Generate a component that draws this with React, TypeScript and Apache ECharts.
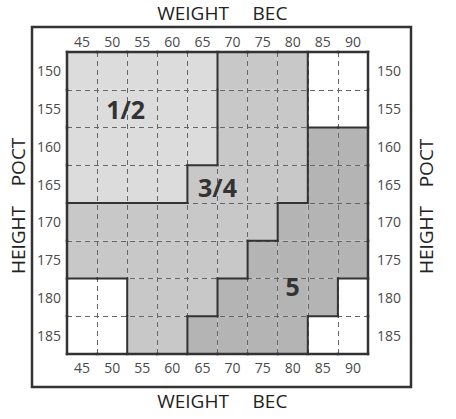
import React, { useEffect, useRef } from "react";
import * as echarts from "echarts";

const weights = ["45", "50", "55", "60", "65", "70", "75", "80", "85", "90"];
const heights = ["150", "155", "160", "165", "170", "175", "180", "185"];

// size code per cell: rows = heights, columns = weights ("" = no size)
const sizeGrid: string[][] = [
  ["1/2", "1/2", "1/2", "1/2", "1/2", "3/4", "3/4", "3/4", "", ""],
  ["1/2", "1/2", "1/2", "1/2", "1/2", "3/4", "3/4", "3/4", "", ""],
  ["1/2", "1/2", "1/2", "1/2", "1/2", "3/4", "3/4", "3/4", "5", "5"],
  ["1/2", "1/2", "1/2", "1/2", "3/4", "3/4", "3/4", "3/4", "5", "5"],
  ["3/4", "3/4", "3/4", "3/4", "3/4", "3/4", "3/4", "5", "5", "5"],
  ["3/4", "3/4", "3/4", "3/4", "3/4", "3/4", "5", "5", "5", "5"],
  ["", "", "3/4", "3/4", "3/4", "5", "5", "5", "5", ""],
  ["", "", "3/4", "3/4", "5", "5", "5", "5", "", ""],
];

const sizeColors: Record<string, string> = {
  "1/2": "#dcdcdc",
  "3/4": "#c8c8c8",
  "5": "#b4b4b4",
  "": "#ffffff",
};

const regionLabels = ["1/2", "3/4", "5"];
const labelWeightPos = [1.45, 4.5, 7];
const labelHeightPos = [1.0, 3.07, 5.7];

const FONT = '"Open Sans", "DejaVu Sans", sans-serif';

export default function App() {
  const ref = useRef<HTMLDivElement>(null);

  useEffect(() => {
    if (!ref.current) return;
    const chart = echarts.init(ref.current, null, { renderer: "svg" });

    const cells: number[][] = [];
    sizeGrid.forEach((row, r) => row.forEach((_, c) => cells.push([c, r])));

    const nC = weights.length;
    const nR = heights.length;

    const axisLabel = { color: "#4a4a4a", fontSize: 14, fontFamily: FONT, interval: 0 };
    const dashed = {
      show: true,
      interval: 0,
      lineStyle: { type: [5, 4] as any, color: "#666", width: 1 },
    };

    const option: any = {
      animation: false,
      backgroundColor: "#ffffff",
      grid: { left: 67, top: 52, width: 301, height: 302, containLabel: false },
      xAxis: [
        {
          type: "category",
          data: weights,
          position: "top",
          z: 3,
          axisLine: { show: false },
          axisTick: { show: false },
          axisLabel: { ...axisLabel, margin: 4 },
          splitLine: dashed,
        },
        {
          type: "category",
          data: weights,
          position: "bottom",
          z: 3,
          axisLine: { show: false },
          axisTick: { show: false },
          axisLabel: { ...axisLabel, margin: 6 },
          splitLine: { show: false },
        },
      ],
      yAxis: [
        {
          type: "category",
          data: heights,
          position: "left",
          inverse: true,
          z: 3,
          axisLine: { show: false },
          axisTick: { show: false },
          axisLabel: { ...axisLabel, margin: 6, padding: [5, 0, 0, 0] },
          splitLine: dashed,
        },
        {
          type: "category",
          data: heights,
          position: "right",
          inverse: true,
          z: 3,
          axisLine: { show: false },
          axisTick: { show: false },
          axisLabel: { ...axisLabel, margin: 9, padding: [5, 0, 0, 0] },
          splitLine: { show: false },
        },
      ],
      series: [
        {
          type: "custom",
          z: 1,
          silent: true,
          xAxisIndex: 0,
          yAxisIndex: 0,
          data: cells,
          renderItem: (params: any, api: any) => {
            const c = api.value(0);
            const r = api.value(1);
            const p = api.coord([c, r]);
            const s = api.size([1, 1]);
            return {
              type: "rect",
              shape: { x: p[0] - s[0] / 2, y: p[1] - s[1] / 2, width: s[0], height: s[1] },
              style: { fill: sizeColors[sizeGrid[r][c]], stroke: null },
            };
          },
        },
        {
          type: "custom",
          z: 5,
          silent: true,
          xAxisIndex: 0,
          yAxisIndex: 0,
          data: cells,
          renderItem: (params: any, api: any) => {
            const c = api.value(0);
            const r = api.value(1);
            const p = api.coord([c, r]);
            const s = api.size([1, 1]);
            const x0 = p[0] - s[0] / 2;
            const x1 = p[0] + s[0] / 2;
            const y0 = p[1] - s[1] / 2;
            const y1 = p[1] + s[1] / 2;
            const code = sizeGrid[r][c];
            const children: any[] = [];
            const seg = (a: number, b: number, cc: number, d: number, w: number) =>
              children.push({
                type: "line",
                shape: { x1: a, y1: b, x2: cc, y2: d },
                style: { stroke: "#333", lineWidth: w, lineCap: "square" },
              });
            if (c === nC - 1) seg(x1, y0, x1, y1, 2.5);
            else if (sizeGrid[r][c + 1] !== code) seg(x1, y0, x1, y1, 2);
            if (r === nR - 1) seg(x0, y1, x1, y1, 2.5);
            else if (sizeGrid[r + 1][c] !== code) seg(x0, y1, x1, y1, 2);
            if (c === 0) seg(x0, y0, x0, y1, 2.5);
            if (r === 0) seg(x0, y0, x1, y0, 2.5);
            return { type: "group", children };
          },
        },
        {
          type: "custom",
          z: 6,
          silent: true,
          xAxisIndex: 0,
          yAxisIndex: 0,
          data: regionLabels.map((_, i) => [Math.floor(labelWeightPos[i]), Math.floor(labelHeightPos[i])]),
          renderItem: (params: any, api: any) => {
            const i = params.dataIndex;
            const fx = labelWeightPos[i];
            const fy = labelHeightPos[i];
            const p = api.coord([Math.floor(fx), Math.floor(fy)]);
            const s = api.size([1, 1]);
            return {
              type: "text",
              x: p[0] + (fx - Math.floor(fx)) * s[0],
              y: p[1] + (fy - Math.floor(fy)) * s[1],
              style: {
                text: regionLabels[i],
                fill: "#333",
                font: `bold 25px ${FONT}`,
                textAlign: "center",
                textVerticalAlign: "middle",
                align: "center",
                verticalAlign: "middle",
              },
            };
          },
        },
      ],
      graphic: [
        {
          type: "rect",
          shape: { x: 32, y: 27, width: 379, height: 360 },
          style: { fill: "none", stroke: "#333", lineWidth: 2.5 },
          z: 0,
        },
        ...[
          { t: "WEIGHT", x: 193, y: 13, rot: 0 },
          { t: "BEC", x: 270, y: 13, rot: 0 },
          { t: "WEIGHT", x: 193, y: 401, rot: 0 },
          { t: "BEC", x: 270, y: 401, rot: 0 },
          { t: "HEIGHT", x: 18, y: 240, rot: Math.PI / 2 },
          { t: "POCT", x: 18, y: 162, rot: Math.PI / 2 },
          { t: "HEIGHT", x: 426, y: 240, rot: Math.PI / 2 },
          { t: "POCT", x: 426, y: 163, rot: Math.PI / 2 },
        ].map((d) => ({
          type: "text",
          x: d.x,
          y: d.y,
          rotation: d.rot,
          style: {
            text: d.t,
            fill: "#222",
            font: `19px ${FONT}`,
            textAlign: "center",
            textVerticalAlign: "middle",
            align: "center",
            verticalAlign: "middle",
          },
        })),
      ],
    };

    chart.setOption(option);
    return () => chart.dispose();
  }, []);

  return (
    <div
      ref={ref}
      style={{ position: "fixed", left: 0, top: 0, width: 456, height: 419, background: "#fff" }}
    />
  );
}
